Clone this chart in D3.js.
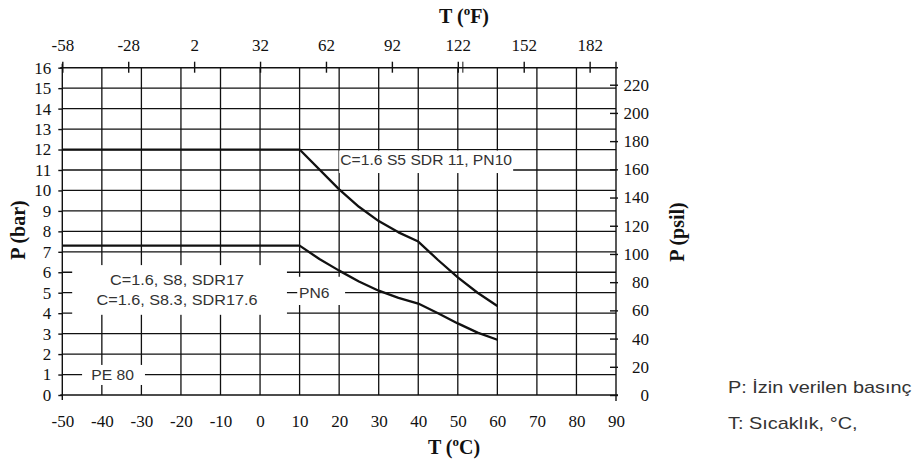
<!DOCTYPE html>
<html>
<head>
<meta charset="utf-8">
<script src="https://cdn.jsdelivr.net/npm/d3@7"></script>
<style>
  body { margin: 0; background: #fff; }
  svg { display: block; }
</style>
</head>
<body>
<div id="container"></div>
<script>
// tick labels
const tempC = [-50, -40, -30, -20, -10, 0, 10, 20, 30, 40, 50, 60, 70, 80, 90];
const tempF = [-58, -28, 2, 32, 62, 92, 122, 152, 182];
const extraTickF = [124.3];
const pressureBar = [0, 1, 2, 3, 4, 5, 6, 7, 8, 9, 10, 11, 12, 13, 14, 15, 16];
const pressurePsi = [0, 20, 40, 60, 80, 100, 120, 140, 160, 180, 200, 220];

// curves (T in °C, P in bar)
const pn10Temp = [-50, 10, 20, 25, 30, 35, 40, 45, 50, 55, 60];
const pn10Bar = [12, 12, 10.05, 9.2, 8.5, 7.95, 7.5, 6.6, 5.75, 5.0, 4.35];
const pn6Temp = [-50, 10, 15, 20, 25, 30, 35, 40, 45, 50, 55, 60];
const pn6Bar = [7.3, 7.3, 6.65, 6.08, 5.55, 5.1, 4.75, 4.47, 4.0, 3.5, 3.05, 2.7];

const width = 917;
const height = 461;
const PSI_PER_BAR = 14.5038;

const x = d3.scaleLinear().domain([-50, 90]).range([62.3, 616]);
const y = d3.scaleLinear().domain([0, 16]).range([395, 67.7]);
const xF = d3.scaleLinear().domain([-58, 194]).range(x.range());
const yPsi = d3.scaleLinear().domain([0, 16 * PSI_PER_BAR]).range(y.range());

const serif = "'Liberation Serif', 'Times New Roman', serif";
const sans = "'Liberation Sans', Arial, Helvetica, sans-serif";

const svg = d3.select("#container")
  .append("svg")
  .attr("width", width)
  .attr("height", height)
  .attr("viewBox", `0 0 ${width} ${height}`);

const ink = "#111";

// grid
const grid = svg.append("g").attr("stroke", ink).attr("stroke-width", 1.3);
grid.selectAll(".v")
  .data(tempC.slice(1, -1))
  .enter().append("line")
  .attr("x1", d => x(d)).attr("x2", d => x(d))
  .attr("y1", y(16)).attr("y2", y(0));
grid.selectAll(".h")
  .data(pressureBar.slice(1, -1))
  .enter().append("line")
  .attr("x1", x(-50)).attr("x2", x(90))
  .attr("y1", d => y(d)).attr("y2", d => y(d));

// frame
const frame = svg.append("g").attr("stroke", ink).attr("stroke-width", 1.4);
frame.append("line").attr("x1", x(-50) - 2).attr("x2", x(90) + 2).attr("y1", y(16)).attr("y2", y(16));
frame.append("line").attr("x1", x(-50) - 2).attr("x2", x(90) + 2).attr("y1", y(0)).attr("y2", y(0));
frame.append("line").attr("x1", x(-50)).attr("x2", x(-50)).attr("y1", y(16) - 4).attr("y2", y(0) + 5);
frame.append("line").attr("x1", x(90)).attr("x2", x(90)).attr("y1", y(16) - 6).attr("y2", y(0) + 6);

// curves
const line = d3.line()
  .x(d => x(d[0]))
  .y(d => y(d[1]));

const curves = [d3.zip(pn10Temp, pn10Bar), d3.zip(pn6Temp, pn6Bar)];
svg.selectAll(".curve")
  .data(curves)
  .enter().append("path")
  .attr("class", "curve")
  .attr("fill", "none")
  .attr("stroke", ink)
  .attr("stroke-width", 2.3)
  .attr("stroke-linejoin", "round")
  .attr("d", line);

// label boxes (white patches over the grid)
const labelStretch = 1.12;
const labels = [
  { lines: ["C=1.6 S5 SDR 11, PN10"], box: [20, 64, 11.95, 10.85], at: [42, 11.45], anchor: "middle", size: 14 },
  { lines: ["C=1.6, S8, SDR17", "C=1.6, S8.3, SDR17.6"], box: [-47.5, 6.8, 6.35, 3.92], at: [-21, 5.15], anchor: "middle", size: 14.5 },
  { lines: ["PN6"], box: [9.4, 21.5, 5.78, 4.4], at: [9.85, 4.98], anchor: "start", size: 14 },
  { lines: ["PE 80"], box: [-45, -29.1, 1.47, 0.49], at: [-37.3, 0.98], anchor: "middle", size: 14 }
];

labels.forEach(l => {
  svg.append("rect")
    .attr("x", x(l.box[0]))
    .attr("y", y(l.box[2]))
    .attr("width", x(l.box[1]) - x(l.box[0]))
    .attr("height", y(l.box[3]) - y(l.box[2]))
    .attr("fill", "#fff");
  const n = l.lines.length;
  l.lines.forEach((t, i) => {
    svg.append("text")
      .attr("transform", `translate(${x(l.at[0])},${y(l.at[1]) + (i - (n - 1) / 2) * 19.4}) scale(${labelStretch},1)`)
      .attr("text-anchor", l.anchor)
      .attr("dominant-baseline", "central")
      .style("font-family", sans)
      .style("font-size", l.size + "px")
      .attr("fill", "#333")
      .text(t);
  });
});

const fmt = d => String(d);

// left axis (bar)
const yAxis = svg.append("g")
  .attr("transform", `translate(${x(-50)},0)`)
  .call(d3.axisLeft(y).tickValues(pressureBar).tickSize(4).tickPadding(7).tickFormat(fmt));
yAxis.select(".domain").remove();

// right axis (psi)
const psiAxis = svg.append("g")
  .attr("transform", `translate(${x(90)},0)`)
  .call(d3.axisRight(yPsi).tickValues(pressurePsi).tickSize(2).tickPadding(4).tickFormat(fmt));
psiAxis.select(".domain").remove();
psiAxis.selectAll(".tick line").attr("x1", -6);
psiAxis.selectAll(".tick text").attr("text-anchor", "end").attr("x", 33);

// bottom axis (°C)
const xAxis = svg.append("g")
  .attr("transform", `translate(0,${y(0)})`)
  .call(d3.axisBottom(x).tickValues(tempC).tickSize(0).tickPadding(20).tickFormat(fmt));
xAxis.select(".domain").remove();

// top axis (°F)
const fAxis = svg.append("g")
  .attr("transform", `translate(0,${y(16)})`)
  .call(d3.axisTop(xF).tickValues(tempF).tickSize(6).tickPadding(11).tickFormat(fmt));
fAxis.select(".domain").remove();
fAxis.selectAll(".tick line").attr("y2", 5).attr("y1", -6);
fAxis.selectAll(".extra")
  .data(extraTickF)
  .enter().append("line")
  .attr("x1", d => xF(d)).attr("x2", d => xF(d))
  .attr("y1", -6).attr("y2", 5)
  .attr("stroke", ink);

[yAxis, psiAxis, xAxis, fAxis].forEach(g => {
  g.style("font-family", serif).style("font-size", "17px");
  g.selectAll(".tick line").attr("stroke", ink).attr("stroke-width", 1.4);
  g.selectAll(".tick text")
    .style("font-family", serif)
    .style("font-size", "17px")
    .attr("fill", "#111");
});
fAxis.selectAll(".extra").attr("stroke-width", 1.4);

// axis titles
function degTitle(sel, letter) {
  sel.style("font-family", serif)
    .style("font-weight", "bold")
    .style("font-size", "20px")
    .attr("fill", "#111");
  sel.append("tspan").text("T (");
  sel.append("tspan").style("font-size", "13px").attr("dy", -8).text("o");
  sel.append("tspan").attr("dy", 8).text(letter + ")");
}
degTitle(svg.append("text").attr("x", 464).attr("y", 23).attr("text-anchor", "middle"), "F");
degTitle(svg.append("text").attr("x", 454).attr("y", 454).attr("text-anchor", "middle"), "C");

svg.append("text")
  .attr("transform", "translate(25,230) rotate(-90)")
  .attr("text-anchor", "middle")
  .style("font-family", serif)
  .style("font-weight", "bold")
  .style("font-size", "20px")
  .attr("fill", "#111")
  .text("P (bar)");

svg.append("text")
  .attr("transform", "translate(684,232) rotate(-90)")
  .attr("text-anchor", "middle")
  .style("font-family", serif)
  .style("font-weight", "bold")
  .style("font-size", "20px")
  .attr("fill", "#111")
  .text("P (psil)");

// notes
const notes = ["P: İzin verilen basınç", "T: Sıcaklık, °C,"];
svg.selectAll(".note")
  .data(notes)
  .enter().append("text")
  .attr("class", "note")
  .attr("transform", (d, i) => `translate(728,${386.7 + i * 36.3}) scale(1.17,1)`)
  .attr("dominant-baseline", "central")
  .style("font-family", sans)
  .style("font-size", "17px")
  .attr("fill", "#333")
  .text(d => d);
</script>
</body>
</html>
